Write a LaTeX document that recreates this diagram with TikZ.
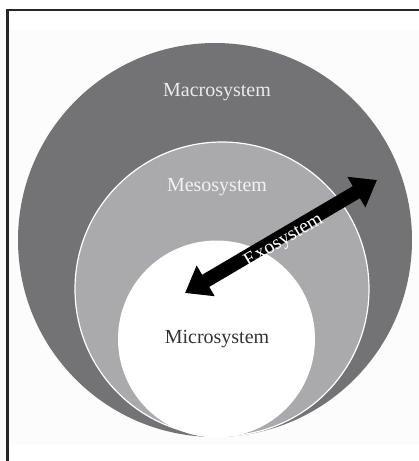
\documentclass[tikz,border=0pt]{standalone}
\usepackage{fontspec}
\setmainfont{Liberation Serif}
\usepackage{xcolor}
\usepackage{tikz}
\usetikzlibrary{arrows.meta}

\definecolor{macrogray}{HTML}{737376}
\definecolor{mesogray}{HTML}{AAAAAC}
\definecolor{microtext}{HTML}{333333}

\begin{document}
\begin{tikzpicture}[
    x=1pt, y=-1pt,
    ring/.style={circle, inner sep=0pt, outer sep=0pt},
    ringtext/.style={font=\fontsize{20}{24}\selectfont},
    biarrow/.style={{Triangle[length=24pt, width=34pt]}-{Triangle[length=24pt, width=34pt]}, line width=14pt}
]
    \useasboundingbox (0,0) rectangle (419,461);
    \fill[gray!2] (9,30) rectangle (419,445);

    % Frame
    \draw[line width=2.2pt, black!85] (7.5,461) -- (7.5,10) -- (419,10);

    % Circles
    \node[ring, fill=macrogray, minimum size=394pt] (macro) at (215,240) {};
    \node[ring, fill=mesogray, draw=white, line width=1.2pt, minimum size=294pt] (meso) at (222,289) {};
    \node[ring, fill=white, minimum size=197pt] (micro) at (216.5,339) {};

    % Labels
    \node[ringtext, text=black!8] (macrolbl) at (217,92) {Macrosystem};
    \node[ringtext, text=black!5] (mesolbl) at (217,187) {Mesosystem};
    \node[ringtext, text=microtext] (microlbl) at (217,339) {Microsystem};

    % Exosystem arrow
    \coordinate (inner) at (185,293);
    \coordinate (outer) at (377,180);
    \draw[biarrow] (inner) -- (outer);
    \node[ringtext, text=white, rotate=30.5] (exolbl) at (284,241) {Exosystem};
\end{tikzpicture}
\end{document}
